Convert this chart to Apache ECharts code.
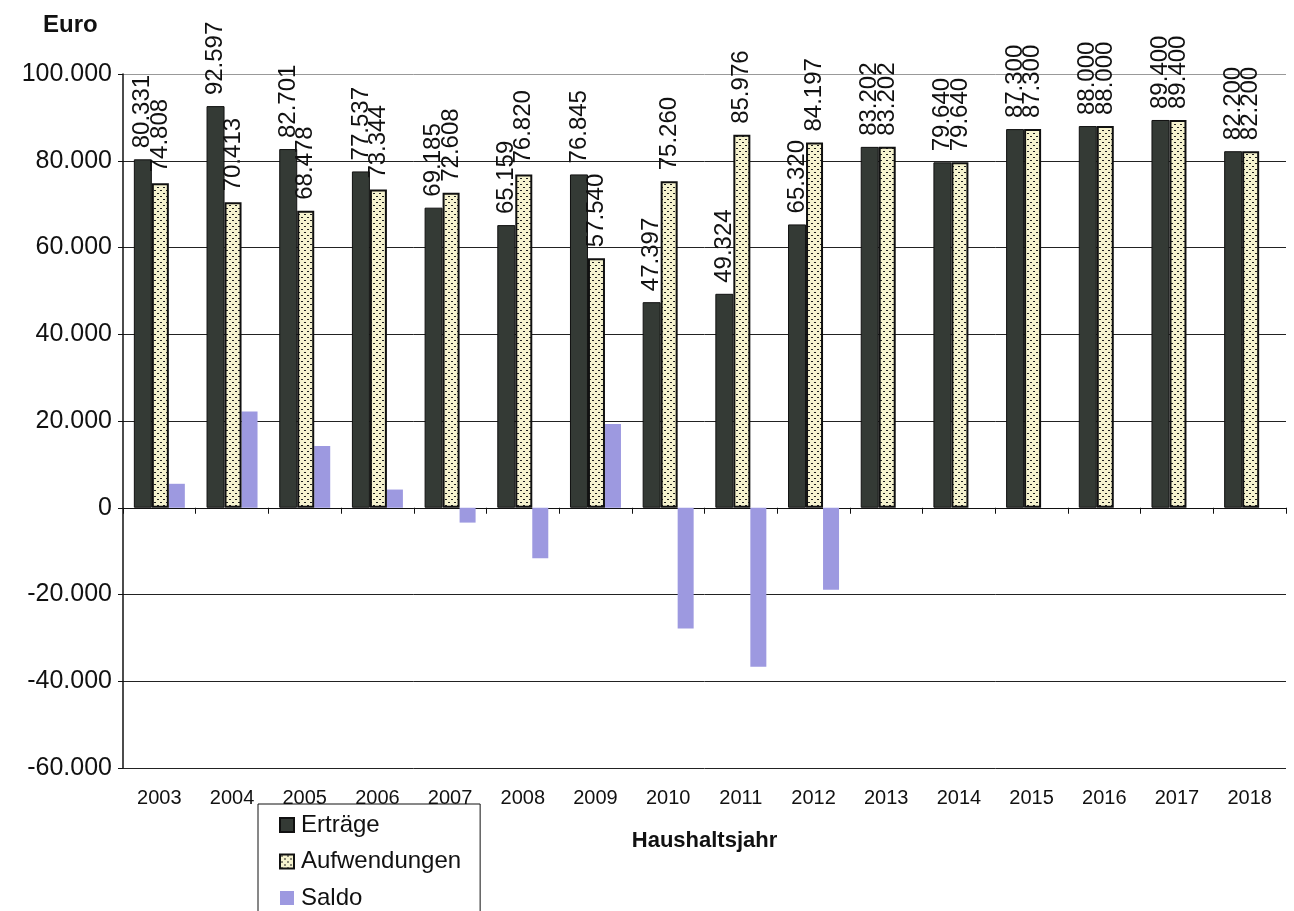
<!DOCTYPE html>
<html>
<head>
<meta charset="utf-8">
<script src="https://cdn.jsdelivr.net/npm/echarts@6/dist/echarts.min.js"></script>
<style>
  html, body { margin: 0; padding: 0; background: #fff; }
  #chart { width: 1294px; height: 911px; }
</style>
</head>
<body>
<div id="chart"></div>
<script>
const years = ["2003", "2004", "2005", "2006", "2007", "2008", "2009", "2010",
  "2011", "2012", "2013", "2014", "2015", "2016", "2017", "2018"];
const ertraege = [80331, 92597, 82701, 77537, 69185, 65159, 76845, 47397,
  49324, 65320, 83202, 79640, 87300, 88000, 89400, 82200];
const aufwendungen = [74808, 70413, 68478, 73344, 72608, 76820, 57540, 75260,
  85976, 84197, 83202, 79640, 87300, 88000, 89400, 82200];
const saldo = [5523, 22184, 14223, 4193, -3423, -11661, 19305, -27863,
  -36652, -18877, 0, 0, 0, 0, 0, 0];
const yTicks = { min: -60000, max: 100000, step: 20000 };

const fmt = (v) => {
  const s = String(Math.abs(v)).replace(/\B(?=(\d{3})+(?!\d))/g, ".");
  return v < 0 ? "-" + s : s;
};

// dotted fill for Aufwendungen
const makeDots = () => {
  const c = document.createElement("canvas");
  c.width = 6;
  c.height = 6;
  const ctx = c.getContext("2d");
  ctx.fillStyle = "#f6f3cf";
  ctx.fillRect(0, 0, 6, 6);
  ctx.fillStyle = "#1e1e1e";
  ctx.fillRect(1, 1, 2, 1);
  ctx.fillRect(4, 4, 2, 1);
  return c;
};

const barLabel = {
  show: true,
  position: "top",
  rotate: 90,
  align: "left",
  verticalAlign: "middle",
  distance: 11,
  fontFamily: "Liberation Sans",
  fontSize: 24,
  color: "#111",
  formatter: (p) => fmt(p.value)
};

const chart = echarts.init(document.getElementById("chart"));
chart.setOption({
  animation: false,
  textStyle: { fontFamily: "Liberation Sans" },
  title: {
    text: "Euro",
    left: 38,
    top: 8,
    textStyle: { fontFamily: "Liberation Sans", fontWeight: "bold", fontSize: 24, color: "#111" }
  },
  grid: { left: 123, right: 8, top: 74, bottom: 143 },
  legend: {
    orient: "vertical",
    left: 258,
    top: 804,
    height: 150,
    padding: [9, 19, 10, 21],
    itemGap: 12.5,
    itemWidth: 14,
    itemHeight: 14,
    icon: "rect",
    borderColor: "#111",
    borderWidth: 1,
    borderRadius: 0,
    textStyle: { fontFamily: "Liberation Sans", fontSize: 24, color: "#111", padding: [0, 0, 0, 2] },
    data: ["Erträge", "Aufwendungen", "Saldo"]
  },
  xAxis: [
    {
      type: "category",
      data: years,
      position: "bottom",
      axisLine: { show: false, onZero: false },
      axisTick: { show: false },
      axisLabel: { fontSize: 20, color: "#111", margin: 20 },
      name: "Haushaltsjahr",
      nameLocation: "middle",
      nameGap: 62,
      nameTextStyle: { fontWeight: "bold", fontSize: 22, color: "#111" }
    },
    {
      type: "category",
      data: years,
      position: "top",
      axisLine: { show: true, onZero: true, lineStyle: { color: "#111", width: 1 } },
      axisTick: { show: true, inside: true, length: 6, lineStyle: { color: "#111" } },
      axisLabel: { show: false }
    }
  ],
  yAxis: {
    type: "value",
    min: yTicks.min,
    max: yTicks.max,
    interval: yTicks.step,
    axisLine: { show: true, lineStyle: { color: "#111", width: 1.5 } },
    axisTick: { show: true, length: 5, lineStyle: { color: "#111" } },
    axisLabel: { fontSize: 25, color: "#111", margin: 11, formatter: fmt },
    splitLine: {
      lineStyle: {
        color: ["#222", "#222", "#222", "#222", "#222", "#222", "#222", "#222", "#999"],
        width: 1
      }
    }
  },
  series: [
    {
      name: "Erträge",
      type: "bar",
      data: ertraege,
      barWidth: 18,
      barGap: "0%",
      itemStyle: { color: "#343a35", borderColor: "#111", borderWidth: 1 },
      label: barLabel,
      z: 3
    },
    {
      name: "Aufwendungen",
      type: "bar",
      data: aufwendungen,
      barWidth: 17,
      barGap: "0%",
      itemStyle: {
        color: { image: makeDots(), repeat: "repeat" },
        borderColor: "#111",
        borderWidth: 2
      },
      label: barLabel,
      z: 3
    },
    {
      name: "Saldo",
      type: "bar",
      data: saldo,
      barWidth: 16,
      barGap: "0%",
      itemStyle: { color: "#9d99e0" },
      z: 2
    }
  ]
});
</script>
</body>
</html>
